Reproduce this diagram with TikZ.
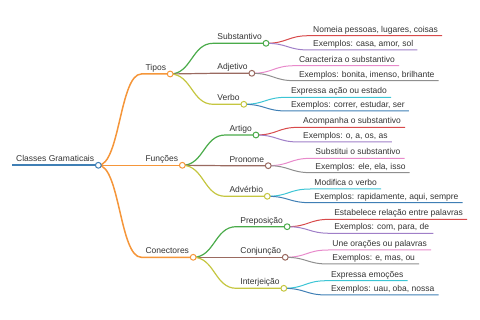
\documentclass[tikz,border=0pt]{standalone}
\usepackage{fontspec}
\setmainfont{Liberation Sans}
\usetikzlibrary{calc}
\definecolor{cblue}{HTML}{3F7FB5}
\definecolor{corange}{HTML}{F5963A}
\definecolor{cgreen}{HTML}{4AAB4A}
\definecolor{cred}{HTML}{D84A4B}
\definecolor{cpurple}{HTML}{A07FC8}
\definecolor{cbrown}{HTML}{9A6A60}
\definecolor{cpink}{HTML}{E88ACB}
\definecolor{cgray}{HTML}{8F8F8F}
\definecolor{colive}{HTML}{C5C640}
\definecolor{ccyan}{HTML}{3CC5D5}
\definecolor{ctext}{HTML}{333333}
\tikzset{
  lbl/.style={font=\fontsize{8.5}{10}\selectfont, inner xsep=4pt, inner ysep=0pt,
    text depth=3.2pt, text height=6.5pt, anchor=south west, text=ctext},
  dot/.style={circle, fill=white, line width=1pt, minimum size=5.8pt, inner sep=0pt},
}
\newcommand\mmnode[4]{%
  \path (#2.south east) ++(43,0) coordinate (#1-s);
  \node[lbl] (#1) at (#1-s |- 0,#3) {#4};}
\newcommand\mmlink[4]{%
  \draw[#3, line width=#4] (#1.south east) .. controls +(21.5,0) and +(-21.5,0) .. (#2.south west) -- (#2.south east);}
\newcommand\mmdot[2]{\node[dot, draw=#2] (#1-dot) at (#1.south east) {};}
\begin{document}
\begin{tikzpicture}[x=1pt,y=-1pt]
\useasboundingbox (0,0) rectangle (480,320);
% nodes
\node[lbl] (root) at (12,165.3) {Classes Gramaticais};
\mmnode{tipos}{root}{74}{Tipos}
\mmnode{funcoes}{root}{165.3}{Funções}
\mmnode{conect}{root}{257.3}{Conectores}
\mmnode{subst}{tipos}{43.3}{Substantivo}
\mmnode{adjet}{tipos}{73.3}{Adjetivo}
\mmnode{verbo}{tipos}{104.3}{Verbo}
\mmnode{artigo}{funcoes}{135}{Artigo}
\mmnode{pronome}{funcoes}{165.7}{Pronome}
\mmnode{adverb}{funcoes}{196.3}{Advérbio}
\mmnode{prep}{conect}{226.7}{Preposição}
\mmnode{conj}{conect}{257.3}{Conjunção}
\mmnode{interj}{conect}{288.3}{Interjeição}
\mmnode{substA}{subst}{35.7}{Nomeia pessoas, lugares, coisas}
\mmnode{substB}{subst}{50}{Exemplos: casa, amor, sol}
\mmnode{adjetA}{adjet}{65.7}{Caracteriza o substantivo}
\mmnode{adjetB}{adjet}{80.7}{Exemplos: bonita, imenso, brilhante}
\mmnode{verboA}{verbo}{97.3}{Expressa ação ou estado}
\mmnode{verboB}{verbo}{111}{Exemplos: correr, estudar, ser}
\mmnode{artigoA}{artigo}{127.3}{Acompanha o substantivo}
\mmnode{artigoB}{artigo}{142}{Exemplos: o, a, os, as}
\mmnode{pronomeA}{pronome}{158.3}{Substitui o substantivo}
\mmnode{pronomeB}{pronome}{172.7}{Exemplos: ele, ela, isso}
\mmnode{adverbA}{adverb}{189}{Modifica o verbo}
\mmnode{adverbB}{adverb}{202.7}{Exemplos: rapidamente, aqui, sempre}
\mmnode{prepA}{prep}{219.3}{Estabelece relação entre palavras}
\mmnode{prepB}{prep}{233.3}{Exemplos: com, para, de}
\mmnode{conjA}{conj}{250}{Une orações ou palavras}
\mmnode{conjB}{conj}{264}{Exemplos: e, mas, ou}
\mmnode{interjA}{interj}{280.7}{Expressa emoções}
\mmnode{interjB}{interj}{295}{Exemplos: uau, oba, nossa}
% lines
\draw[cblue, line width=2.2pt] (root.south west) -- (root.south east);
\mmlink{root}{tipos}{corange}{1.5pt}
\mmlink{root}{funcoes}{corange}{1.5pt}
\mmlink{root}{conect}{corange}{1.5pt}
\mmlink{tipos}{subst}{cgreen}{1.2pt}
\mmlink{tipos}{adjet}{cbrown}{1.2pt}
\mmlink{tipos}{verbo}{colive}{1.2pt}
\mmlink{funcoes}{artigo}{cgreen}{1.2pt}
\mmlink{funcoes}{pronome}{cbrown}{1.2pt}
\mmlink{funcoes}{adverb}{colive}{1.2pt}
\mmlink{conect}{prep}{cgreen}{1.2pt}
\mmlink{conect}{conj}{cbrown}{1.2pt}
\mmlink{conect}{interj}{colive}{1.2pt}
\mmlink{subst}{substA}{cred}{1pt}
\mmlink{subst}{substB}{cpurple}{1pt}
\mmlink{adjet}{adjetA}{cpink}{1pt}
\mmlink{adjet}{adjetB}{cgray}{1pt}
\mmlink{verbo}{verboA}{ccyan}{1pt}
\mmlink{verbo}{verboB}{cblue}{1pt}
\mmlink{artigo}{artigoA}{cred}{1pt}
\mmlink{artigo}{artigoB}{cpurple}{1pt}
\mmlink{pronome}{pronomeA}{cpink}{1pt}
\mmlink{pronome}{pronomeB}{cgray}{1pt}
\mmlink{adverb}{adverbA}{ccyan}{1pt}
\mmlink{adverb}{adverbB}{cblue}{1pt}
\mmlink{prep}{prepA}{cred}{1pt}
\mmlink{prep}{prepB}{cpurple}{1pt}
\mmlink{conj}{conjA}{cpink}{1pt}
\mmlink{conj}{conjB}{cgray}{1pt}
\mmlink{interj}{interjA}{ccyan}{1pt}
\mmlink{interj}{interjB}{cblue}{1pt}
% circles
\mmdot{root}{cblue}
\mmdot{tipos}{corange}
\mmdot{funcoes}{corange}
\mmdot{conect}{corange}
\mmdot{subst}{cgreen}
\mmdot{adjet}{cbrown}
\mmdot{verbo}{colive}
\mmdot{artigo}{cgreen}
\mmdot{pronome}{cbrown}
\mmdot{adverb}{colive}
\mmdot{prep}{cgreen}
\mmdot{conj}{cbrown}
\mmdot{interj}{colive}
\end{tikzpicture}
\end{document}
